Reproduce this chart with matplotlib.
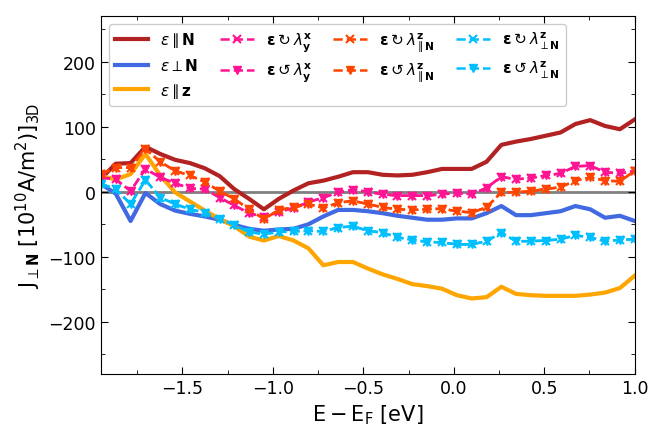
import matplotlib.pyplot as plt
import numpy as np

# energy grid (eV)
energy = [-1.950, -1.868, -1.786, -1.704, -1.622, -1.540, -1.458, -1.376, -1.294,
          -1.213, -1.131, -1.049, -0.967, -0.885, -0.803, -0.721, -0.639, -0.557,
          -0.475, -0.393, -0.311, -0.229, -0.147, -0.065, 0.017, 0.099, 0.181,
          0.263, 0.344, 0.426, 0.508, 0.590, 0.672, 0.754, 0.836, 0.918, 1.000]

# linear polarisation
j_par_n = [20, 43, 44, 69, 58, 49, 44, 36, 24, 4, -11, -27, -11, 2, 13, 17, 23, 30,
           30, 26, 25, 26, 30, 35, 35, 35, 46, 72, 77, 81, 86, 91, 104, 110, 101, 96, 111]
j_perp_n = [12, -3, -45, -2, -19, -29, -34, -38, -43, -51, -57, -60, -58, -57, -50,
            -38, -28, -28, -30, -33, -37, -40, -43, -43, -41, -41, -33, -22, -36, -36,
            -33, -30, -22, -27, -40, -37, -45]
j_par_z = [24, 19, 27, 58, 25, -1, -15, -29, -42, -53, -69, -75, -68, -75, -87, -113,
           -108, -108, -118, -127, -134, -142, -145, -149, -159, -164, -162, -146,
           -157, -159, -160, -160, -160, -158, -155, -148, -129]

# circular polarisation, clockwise / anticlockwise
jx_y_cw = [22, 19, 1, 35, 22, 13, 5, 4, -9, -21, -33, -39, -31, -25, -16, -9, -1, 3,
           0, -4, -6, -6, -6, -4, -2, -4, 6, 23, 19, 21, 25, 28, 39, 40, 30, 28, 32]
jx_y_ccw = jx_y_cw
jz_par_cw = [27, 37, 37, 66, 46, 32, 25, 15, 1, -11, -27, -42, -28, -24, -19, -25,
             -17, -14, -19, -24, -27, -28, -27, -26, -30, -32, -24, -1, -1, 1, 4, 7,
             17, 22, 17, 16, 32]
jz_par_ccw = jz_par_cw
jz_perp_cw = [12, 4, -19, 18, -9, -19, -27, -32, -42, -51, -62, -65, -62, -61, -60,
              -61, -55, -53, -60, -63, -70, -74, -77, -78, -81, -81, -76, -63, -76,
              -76, -75, -73, -67, -70, -76, -74, -73]
jz_perp_ccw = jz_perp_cw

fig = plt.figure(figsize=(6.51, 4.35), dpi=100)
ax = fig.add_axes([0.155, 0.138, 0.82, 0.823])

ax.axhline(0, color='gray', lw=2, zorder=0)

ax.plot(energy, j_par_n, color='firebrick', lw=3, label=r'$\varepsilon \parallel \mathbf{N}$')
ax.plot(energy, j_perp_n, color='royalblue', lw=3, label=r'$\varepsilon \perp \mathbf{N}$')
ax.plot(energy, j_par_z, color='orange', lw=3, label=r'$\varepsilon \parallel \mathbf{z}$')

series = [
    (jx_y_cw, jx_y_ccw, 'deeppink', r'\lambda^{\mathbf{x}}_{\mathbf{y}}'),
    (jz_par_cw, jz_par_ccw, 'orangered', r'\lambda^{\mathbf{z}}_{\parallel \mathbf{N}}'),
    (jz_perp_cw, jz_perp_ccw, 'deepskyblue', r'\lambda^{\mathbf{z}}_{\perp \mathbf{N}}'),
]
for cw, ccw, col, lam in series:
    ax.plot(energy, cw, '--x', color=col, lw=1.8, ms=6, mew=1.5,
            label=r'$\mathbf{\varepsilon}\circlearrowright' + lam + '$')
    ax.plot(energy, ccw, '--v', color=col, lw=1.8, ms=6,
            label=r'$\mathbf{\varepsilon}\circlearrowleft' + lam + '$')

ax.set_xlim(-1.95, 1.0)
ax.set_ylim(-280, 270)
ax.set_xticks(np.arange(-1.5, 1.01, 0.5))
ax.set_xticks(np.arange(-1.75, 1.01, 0.25), minor=True)
ax.set_yticks([-200, -100, 0, 100, 200])
ax.set_yticks(np.arange(-250, 260, 50), minor=True)
ax.tick_params(which='both', direction='in', top=True, right=True, labelsize=12.5)
ax.tick_params(which='major', length=5)
ax.tick_params(which='minor', length=3)

ax.set_xlabel(r'$\mathrm{E-E_F}$ [eV]', fontsize=15)
ax.set_ylabel(r'$\mathrm{J}_{\perp \mathbf{N}}\ [10^{10}\mathrm{A/m^2)]_{3D}}$', fontsize=15)

ax.legend(ncol=4, loc='upper left', fontsize=11, handlelength=2.2,
          columnspacing=1.4, framealpha=1)

fig.savefig('out.png', dpi=100)
